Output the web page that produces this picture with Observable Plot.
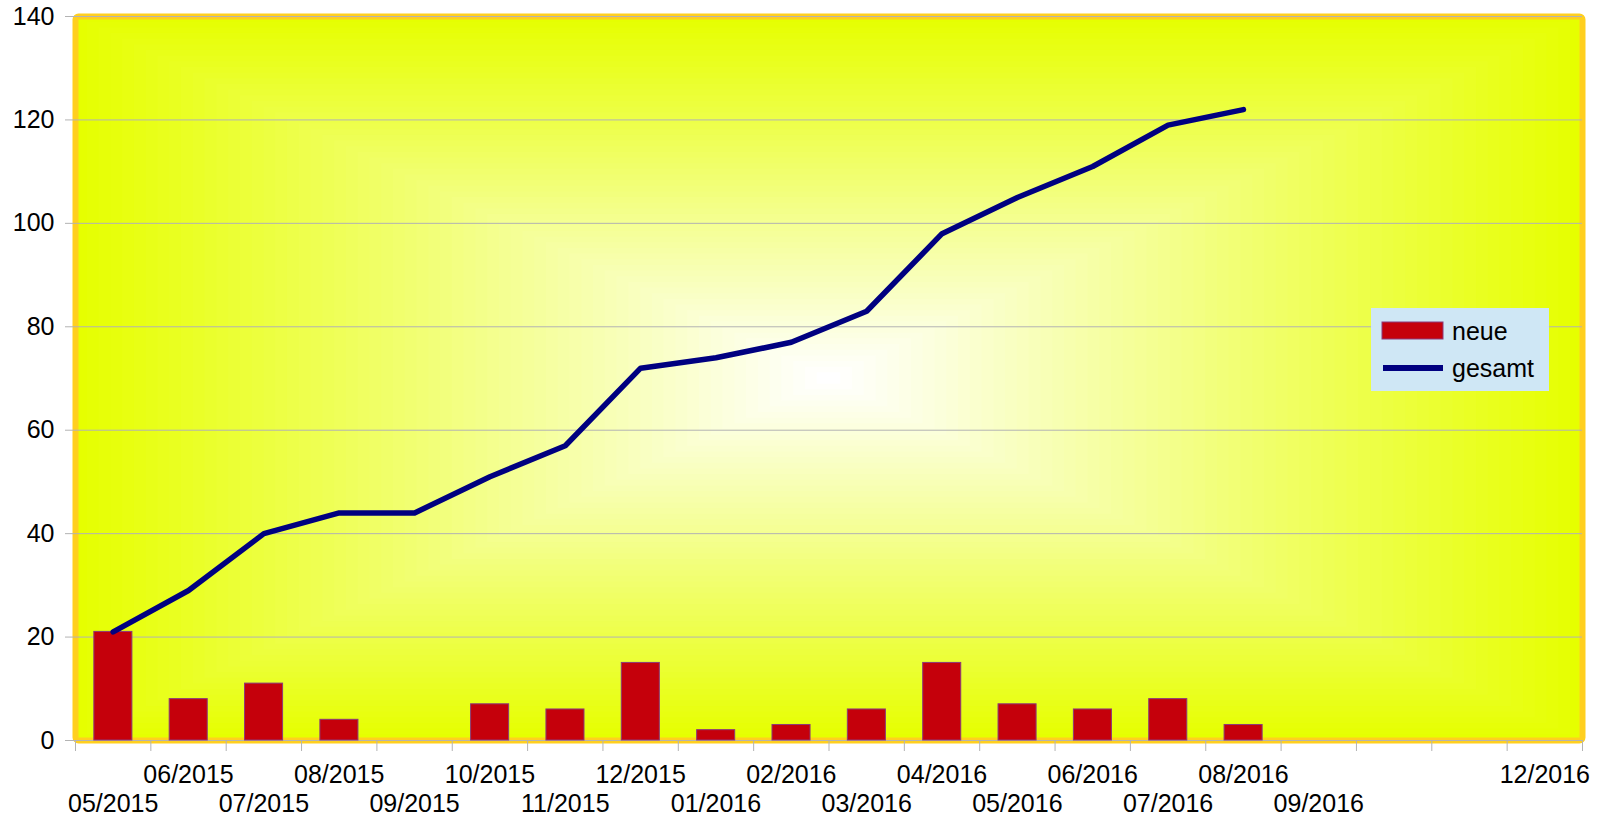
<!DOCTYPE html>
<html><head><meta charset="utf-8">
<script src="https://cdn.jsdelivr.net/npm/d3@7"></script>
<script src="https://cdn.jsdelivr.net/npm/@observablehq/plot@0.6"></script>
<style>body{margin:0;background:#fff;}</style>
</head><body><div id="chart"></div>
<script>
const months = ["05/2015","06/2015","07/2015","08/2015","09/2015","10/2015","11/2015","12/2015","01/2016","02/2016","03/2016","04/2016","05/2016","06/2016","07/2016","08/2016","09/2016","10/2016","11/2016","12/2016"];
const tickLabels = ["05/2015","06/2015","07/2015","08/2015","09/2015","10/2015","11/2015","12/2015","01/2016","02/2016","03/2016","04/2016","05/2016","06/2016","07/2016","08/2016","09/2016","","","12/2016"];
const neue = [21, 8, 11, 4, 0, 7, 6, 15, 2, 3, 6, 15, 7, 6, 8, 3];
const gesamt = [21, 29, 40, 44, 44, 51, 57, 72, 74, 77, 83, 98, 105, 111, 119, 122];
const yTicks = [0, 20, 40, 60, 80, 100, 120, 140];
const seriesNames = ["neue", "gesamt"];

const data = neue.map((v, i) => ({i, month: months[i], neue: v, gesamt: gesamt[i]}));
const labels = months.map((m, i) => ({i, label: tickLabels[i]}));

const FONT = "'Liberation Sans', Arial, sans-serif";
const FS = 25;
const chart = Plot.plot({
  width: 1604, height: 821,
  marginLeft: 75, marginRight: 22, marginTop: 16, marginBottom: 81,
  style: {fontFamily: FONT, fontSize: FS + "px", background: "white", color: "black"},
  x: {domain: [0, months.length], axis: null},
  y: {domain: [0, 140], axis: null},
  marks: [
    Plot.frame({stroke: "#ffcf1f", strokeWidth: 6, rx: 3}),
    Plot.gridY(yTicks, {stroke: "#b3b3b3", strokeOpacity: 1}),
    Plot.axisY({ticks: yTicks, tickSize: 10, tickPadding: 11, stroke: "#b3b3b3", strokeOpacity: 1, fill: "black", fontSize: FS}),
    Plot.axisX({ticks: d3.range(months.length + 1), tickSize: 11, tickFormat: () => "", stroke: "#b3b3b3", strokeOpacity: 1}),
    Plot.rectY(data.filter(d => d.neue > 0), {x1: d => d.i + 0.25, x2: d => d.i + 0.755, y: "neue", fill: "#c5000b", stroke: "#8b3a7a", strokeWidth: 1}),
    Plot.line(data, {x: d => d.i + 0.5, y: "gesamt", stroke: "#000080", strokeWidth: 5.5, strokeLinejoin: "round"}),
    Plot.text(labels.filter(d => d.label && d.i % 2 === 1), {x: d => d.i + 0.5, text: "label", frameAnchor: "bottom", lineAnchor: "middle", dy: 34, fontSize: FS, fill: "black"}),
    Plot.text(labels.filter(d => d.label && d.i % 2 === 0), {x: d => d.i + 0.5, text: "label", frameAnchor: "bottom", lineAnchor: "middle", dy: 63, fontSize: FS, fill: "black"})
  ]
});

// rectangular gradient background behind marks
const xs = chart.scale("x").range, ys = chart.scale("y").range;
const x0 = Math.min(...xs), x1 = Math.max(...xs), y0 = Math.min(...ys), y1 = Math.max(...ys);
const hw = (x1 - x0) / 2, hh = (y1 - y0) / 2;
const NS = "http://www.w3.org/2000/svg";
const bg = document.createElementNS(NS, "g");
const N = 64;
const interp = d3.interpolateRgb("#e6ff00", "#ffffff");
for (let k = 0; k < N; k++) {
  const t = k / N;
  const r = document.createElementNS(NS, "rect");
  r.setAttribute("x", x0 + t * hw);
  r.setAttribute("y", y0 + t * hh);
  r.setAttribute("width", Math.max(0, 2 * hw * (1 - t)));
  r.setAttribute("height", Math.max(0, 2 * hh * (1 - t)));
  r.setAttribute("fill", interp(k / (N - 1)));
  bg.appendChild(r);
}
const styleEl = chart.querySelector("style");
if (styleEl) chart.insertBefore(bg, styleEl.nextSibling); else chart.insertBefore(bg, chart.firstChild);

// legend
const lg = d3.select(chart).append("g").attr("font-family", FONT).attr("font-size", FS).attr("text-anchor", "start");
const lx = 1371, ly = 308;
lg.append("rect").attr("x", lx).attr("y", ly).attr("width", 178).attr("height", 83).attr("fill", "#cfe7f5");
lg.append("rect").attr("x", lx + 11).attr("y", ly + 14).attr("width", 61).attr("height", 17).attr("fill", "#c5000b").attr("stroke", "#8b3a7a").attr("stroke-width", 1);
lg.append("line").attr("x1", lx + 12).attr("x2", lx + 72).attr("y1", ly + 60).attr("y2", ly + 60).attr("stroke", "#000080").attr("stroke-width", 6);
lg.append("text").attr("x", lx + 81).attr("y", ly + 32).attr("text-anchor", "start").text(seriesNames[0]);
lg.append("text").attr("x", lx + 81).attr("y", ly + 69).attr("text-anchor", "start").text(seriesNames[1]);

document.getElementById("chart").appendChild(chart);
</script>
</body></html>
